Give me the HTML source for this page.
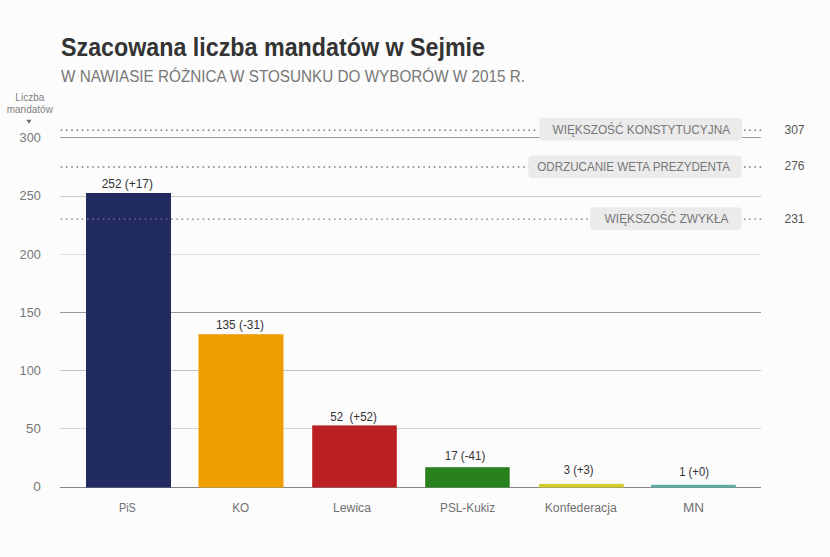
<!DOCTYPE html>
<html><head><meta charset="utf-8">
<style>
html,body{margin:0;padding:0;background:#fcfcfc;width:830px;height:557px;overflow:hidden}
svg{display:block;font-family:"Liberation Sans",sans-serif}
</style></head>
<body>
<svg width="830" height="557" viewBox="0 0 830 557">
<rect x="0" y="0" width="830" height="557" fill="#fcfcfc"/>
<!-- title -->
<text x="61" y="56.2" font-size="26" font-weight="bold" fill="#333" textLength="424" lengthAdjust="spacingAndGlyphs">Szacowana liczba mandatów w Sejmie</text>
<text x="61" y="82" font-size="15.8" fill="#777" textLength="464" lengthAdjust="spacingAndGlyphs">W NAWIASIE RÓŻNICA W STOSUNKU DO WYBORÓW W 2015 R.</text>

<!-- y axis header -->
<g fill="#808080" font-size="10" text-anchor="middle">
<text x="29.8" y="100.8">Liczba</text>
<text x="29.8" y="112.8">mandatów</text>
</g>
<path d="M26.4 119.8 L31.5 119.8 L28.95 123.8 Z" fill="#6a6a6a"/>

<!-- grid lines -->
<g fill="#aaa">
<rect x="60" y="137" width="701" height="1" fill="#999"/>
<rect x="60" y="196" width="701" height="1" fill="#c8c8c8"/>
<rect x="60" y="254" width="701" height="1" fill="#dedede"/>
<rect x="60" y="312" width="701" height="1" fill="#999"/>
<rect x="60" y="370" width="701" height="1" fill="#c4c4c4"/>
<rect x="60" y="428" width="701" height="1" fill="#d6d6d6"/>
<rect x="60" y="487" width="701" height="1" fill="#888"/>
</g>

<!-- y labels -->
<g fill="#777" font-size="12" text-anchor="end" lengthAdjust="spacingAndGlyphs">
<text x="40.8" y="141.6" textLength="21.2" lengthAdjust="spacingAndGlyphs">300</text>
<text x="40.8" y="200.4" textLength="21.2" lengthAdjust="spacingAndGlyphs">250</text>
<text x="40.8" y="258.7" textLength="21.2" lengthAdjust="spacingAndGlyphs">200</text>
<text x="40.8" y="316.8" textLength="21.2" lengthAdjust="spacingAndGlyphs">150</text>
<text x="40.8" y="375" textLength="21.2" lengthAdjust="spacingAndGlyphs">100</text>
<text x="40.8" y="433" textLength="14.8" lengthAdjust="spacingAndGlyphs">50</text>
<text x="40.8" y="491" textLength="7.6" lengthAdjust="spacingAndGlyphs">0</text>
</g>

<!-- bars -->
<rect x="86" y="193" width="85" height="294.5" fill="#222b60"/>
<rect x="198.5" y="334.2" width="85" height="153.3" fill="#ed9f00"/>
<rect x="312.2" y="425.4" width="84.6" height="62.1" fill="#bb2023"/>
<rect x="425.2" y="467.2" width="84.5" height="20.3" fill="#29801f"/>
<rect x="539" y="483.9" width="84.7" height="3.6" fill="#d4cc2b"/>
<rect x="651" y="484.8" width="84.8" height="2.7" fill="#5aaea5"/>

<!-- dotted reference lines -->
<g stroke="#7c7c7c" stroke-width="1.4" stroke-dasharray="1.6 3.655">
<line x1="60.7" y1="130.2" x2="762" y2="130.2"/>
<line x1="60.7" y1="167" x2="762" y2="167"/>
<line x1="60.7" y1="219.1" x2="762" y2="219.1"/>
</g>

<!-- reference label boxes -->
<rect x="537.4" y="128.2" width="2.5" height="3.8" fill="#fcfcfc"/>
<g fill="#ebebeb">
<rect x="539.3" y="117.8" width="202.7" height="22.8" rx="4"/>
<rect x="528.3" y="155.5" width="213.4" height="22.8" rx="4"/>
<rect x="590.2" y="207.2" width="151.6" height="22.8" rx="4"/>
</g>
<g fill="#777" font-size="12.5" lengthAdjust="spacingAndGlyphs">
<text x="552.5" y="133.8" textLength="177.6" lengthAdjust="spacingAndGlyphs">WIĘKSZOŚĆ KONSTYTUCYJNA</text>
<text x="537.2" y="171.3" textLength="192.8" lengthAdjust="spacingAndGlyphs">ODRZUCANIE WETA PREZYDENTA</text>
<text x="604.6" y="222.9" textLength="123.9" lengthAdjust="spacingAndGlyphs">WIĘKSZOŚĆ ZWYKŁA</text>
</g>
<g fill="#555" font-size="12">
<text x="784.5" y="133.6">307</text>
<text x="784.5" y="170.3">276</text>
<text x="784.5" y="223.2">231</text>
</g>

<!-- value labels -->
<g fill="#333" font-size="12">
<text x="101.7" y="187.9" textLength="51.2" lengthAdjust="spacingAndGlyphs">252 (+17)</text>
<text x="215.9" y="328.9" textLength="48.1" lengthAdjust="spacingAndGlyphs">135 (-31)</text>
<text x="330.2" y="420.8" textLength="46.7" lengthAdjust="spacingAndGlyphs" xml:space="preserve">52  (+52)</text>
<text x="444.7" y="459.9" textLength="40.6" lengthAdjust="spacingAndGlyphs">17 (-41)</text>
<text x="563.8" y="474.2" textLength="29.6" lengthAdjust="spacingAndGlyphs">3 (+3)</text>
<text x="679.2" y="476.1" textLength="29.7" lengthAdjust="spacingAndGlyphs">1 (+0)</text>
</g>

<!-- x labels -->
<g fill="#707070" font-size="12.5" text-anchor="middle">
<text x="127.4" y="512.3" textLength="16.8" lengthAdjust="spacingAndGlyphs">PiS</text>
<text x="240.7" y="512.3" textLength="17" lengthAdjust="spacingAndGlyphs">KO</text>
<text x="352" y="512.3" textLength="38" lengthAdjust="spacingAndGlyphs">Lewica</text>
<text x="467.6" y="512.3" textLength="55" lengthAdjust="spacingAndGlyphs">PSL-Kukiz</text>
<text x="580.7" y="512.3" textLength="72" lengthAdjust="spacingAndGlyphs">Konfederacja</text>
<text x="693.5" y="512.3" textLength="21" lengthAdjust="spacingAndGlyphs">MN</text>
</g>
</svg>
</body></html>
